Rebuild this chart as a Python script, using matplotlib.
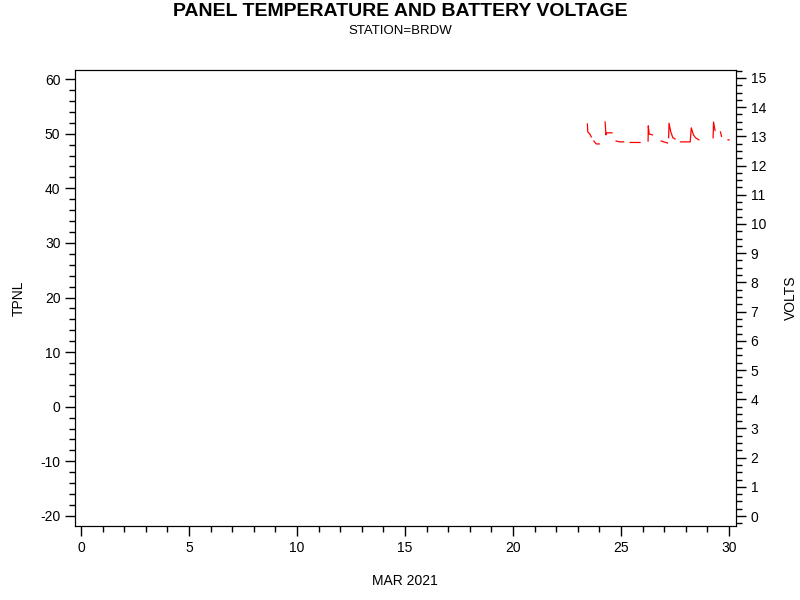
import numpy as np
import matplotlib
matplotlib.use("Agg")
import matplotlib.pyplot as plt
from matplotlib.ticker import MultipleLocator

plt.rcParams['font.family'] = ['Liberation Sans', 'DejaVu Sans']
plt.rcParams['axes.unicode_minus'] = False

# day of March 2021 and battery volts; nan marks a gap in the record
days = [23.44, 23.46, 23.55, 23.62, np.nan,
        23.74, 23.85, 23.99, np.nan,
        24.26, 24.30, 24.33, 24.58, np.nan,
        24.77, 24.94, 25.12, np.nan,
        25.42, 25.88, np.nan,
        26.25, 26.26, 26.30, 26.45, np.nan,
        26.85, 27.15, np.nan,
        27.20, 27.22, 27.30, 27.40, 27.50, np.nan,
        27.75, 28.20, 28.25, 28.35, 28.45, 28.60, np.nan,
        29.26, 29.28, 29.35, np.nan,
        29.60, 29.65, np.nan,
        29.95, 30.00]
volts = [13.42, 13.15, 13.08, 12.98, np.nan,
         12.84, 12.74, 12.74, np.nan,
         13.49, 13.05, 13.12, 13.12, np.nan,
         12.84, 12.81, 12.81, np.nan,
         12.79, 12.79, np.nan,
         12.84, 13.36, 13.08, 13.05, np.nan,
         12.84, 12.77, np.nan,
         12.95, 13.45, 13.15, 12.95, 12.91, np.nan,
         12.81, 12.81, 13.29, 13.05, 12.95, 12.88, np.nan,
         12.95, 13.49, 13.20, np.nan,
         13.15, 13.00, np.nan,
         12.88, 12.88]

fig = plt.figure(figsize=(8, 6), dpi=100)
ax = fig.add_axes([0.09375, 0.1233, 0.92 - 0.09375, 0.8833 - 0.1233])
ax2 = ax.twinx()

ax.set_xlim(-0.28, 30.32)
ax.set_ylim(-21.85, 61.67)
ax2.set_ylim(-0.34, 15.27)

ax2.plot(days, volts, color='red', lw=0.9)

ax.xaxis.set_major_locator(MultipleLocator(5))
ax.xaxis.set_minor_locator(MultipleLocator(1))
ax.yaxis.set_major_locator(MultipleLocator(10))
ax.yaxis.set_minor_locator(MultipleLocator(2))
ax2.yaxis.set_major_locator(MultipleLocator(1))
ax2.yaxis.set_minor_locator(MultipleLocator(0.25))

for a in (ax, ax2):
    a.tick_params(which='major', length=7, width=1, labelsize=10, direction='out')
    a.tick_params(which='minor', length=4, width=1, direction='out')

fig.text(19 / 800, 1 - 298 / 600, "TPNL", rotation=90, ha='center', va='center', fontsize=10)
fig.text(791 / 800, 1 - 298 / 600, "VOLTS", rotation=90, ha='center', va='center', fontsize=10)
fig.text(405 / 800, 1 - 581 / 600, "MAR 2021", ha='center', va='center', fontsize=10)

fig.text(0.5, 1 - 11 / 600, "PANEL TEMPERATURE AND BATTERY VOLTAGE", ha='center', va='center',
         fontsize=14, fontweight='bold')
fig.text(0.5, 1 - 31 / 600, "STATION=BRDW", ha='center', va='center', fontsize=9.5)

fig.savefig("out.png", dpi=100)
